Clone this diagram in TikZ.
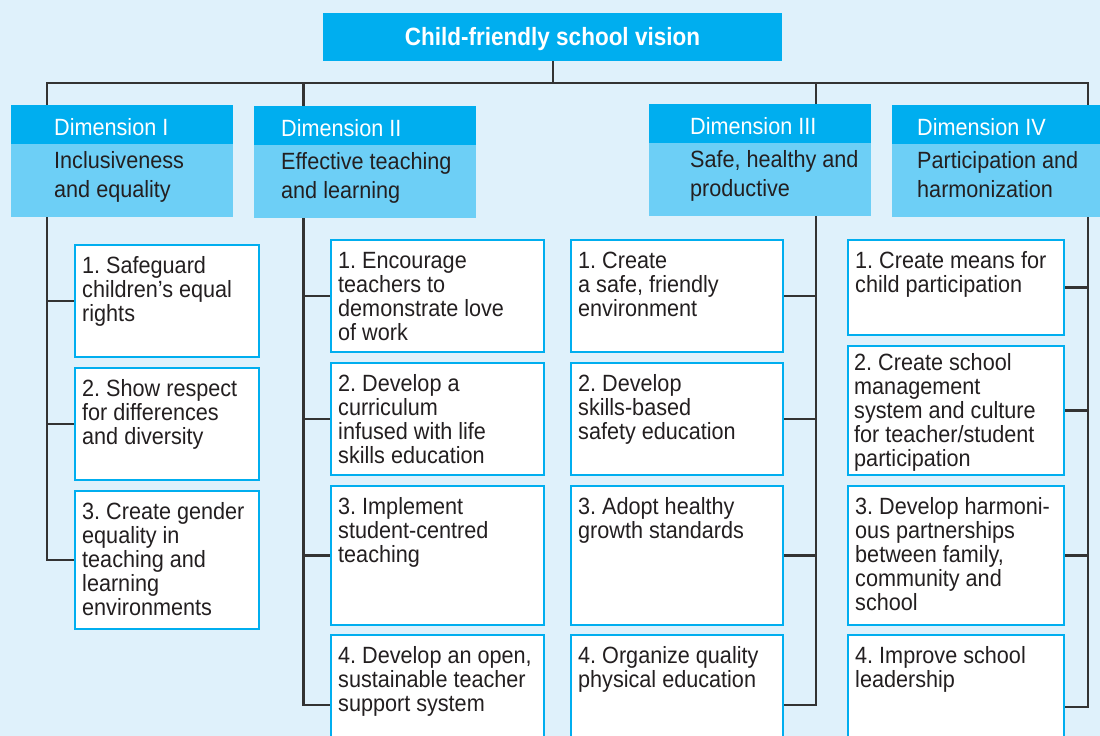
\documentclass[tikz,border=0pt]{standalone}
\usepackage{fontspec}
\setmainfont{Liberation Sans}[FakeStretch=0.92]
\newfontfamily\titlefont{Liberation Sans}[FakeStretch=0.9]
\definecolor{bgc}{HTML}{DFF1FB}
\definecolor{cyanA}{HTML}{00AEEF}
\definecolor{cyanL}{HTML}{6DCFF6}
\definecolor{lineC}{HTML}{333333}
\definecolor{txt}{HTML}{231F20}
\pgfdeclarelayer{bglayer}
\pgfdeclarelayer{linelayer}
\pgfsetlayers{bglayer,linelayer,main}
\tikzset{
  item/.style={draw=cyanA, line width=2pt, fill=white, inner sep=0pt, anchor=north west},
  itemtext/.style={anchor=north west, inner sep=0pt, align=left, text=txt, font=\frenchspacing\fontsize{23.5}{24}\selectfont},
  dimlow/.style={anchor=north west, fill=cyanL, minimum width=222pt, minimum height=112pt, inner sep=0pt},
  dimtop/.style={anchor=north west, fill=cyanA, minimum width=222pt, minimum height=39pt, inner sep=0pt},
  dimlabel/.style={anchor=base west, inner sep=0pt, text=white, font=\fontsize{23.5}{24}\selectfont},
  dimsub/.style={anchor=north west, inner sep=0pt, align=left, text=txt, font=\frenchspacing\fontsize{23.5}{29}\selectfont},
  titlebox/.style={anchor=north west, fill=cyanA, minimum width=459pt, minimum height=48pt, inner sep=0pt},
  titletext/.style={anchor=base, inner sep=0pt, text=white, font=\titlefont\bfseries\fontsize{25}{26}\selectfont},
  conn/.style={draw=lineC, line width=2.4pt, line join=miter}
}
\newcommand\itm[6]{%
  \node[item, minimum width=#4pt, minimum height=#5pt] (#1) at (#2,#3) {};
  \node[itemtext] (#1t) at ([shift={(8,11.5)}]#1.north west) {\rule{0pt}{18pt}#6};}
\newcommand\dimbox[6]{%
  \node[dimlow] (#1) at (#2,#3) {};
  \node[dimtop] (#1h) at (#1.north west) {};
  \node[dimlabel] (#1l) at (#4,#3+30) {#5};
  \node[dimsub] (#1s) at (#4,#3+45) {\rule{0pt}{18pt}#6};}
\begin{document}
\frenchspacing
\begin{tikzpicture}[x=1pt,y=-1pt]
\useasboundingbox (0,0) rectangle (1100,736);
\begin{pgfonlayer}{bglayer}
  \fill[bgc] (0,0) rectangle (1100,736);
\end{pgfonlayer}

% title
\node[titlebox] (title) at (323,13) {};
\node[titletext] (titlet) at (552.5,45) {Child-friendly school vision};

% dimension headers
\dimbox{d1}{11}{105}{54}{Dimension I}{Inclusiveness\\and equality}
\dimbox{d2}{254}{106}{281}{Dimension II}{Effective teaching\\and learning}
\dimbox{d3}{649}{104}{690}{Dimension III}{Safe, healthy and\\productive}
\dimbox{d4}{892}{105}{917}{Dimension IV}{Participation and\\harmonization}

% column I
\itm{b11}{74}{244}{184}{112}{1. Safeguard\\children’s equal\\rights}
\itm{b12}{74}{367}{184}{112}{2. Show respect\\for differences\\and diversity}
\itm{b13}{74}{490}{184}{138}{3. Create gender\\equality in\\teaching and\\learning\\environments}

% column II
\itm{b21}{330}{239}{213}{112}{1. Encourage\\teachers to\\demonstrate love\\of work}
\itm{b22}{330}{362}{213}{112}{2. Develop a\\curriculum\\infused with life\\skills education}
\itm{b23}{330}{485}{213}{139}{3. Implement\\student-centred\\teaching}
\itm{b24}{330}{634}{213}{140}{4. Develop an open,\\sustainable teacher\\support system}

% column III
\itm{b31}{570}{239}{212}{112}{1. Create\\a safe, friendly\\environment}
\itm{b32}{570}{362}{212}{112}{2. Develop\\skills-based\\safety education}
\itm{b33}{570}{485}{212}{139}{3. Adopt healthy\\growth standards}
\itm{b34}{570}{634}{212}{140}{4. Organize quality\\physical education}

% column IV
\itm{b41}{847}{239}{216}{95}{1. Create means for\\child participation}
\node[item, minimum width=216pt, minimum height=129pt] (b42) at (847,345) {};
\node[itemtext] (b42t) at ([shift={(7,7)}]b42.north west) {\rule{0pt}{18pt}2. Create school\\management\\system and culture\\for teacher/student\\participation};
\itm{b43}{847}{485}{216}{139}{3. Develop harmoni-\\ous partnerships\\between family,\\community and\\school}
\itm{b44}{847}{634}{216}{144}{4. Improve school\\leadership}

% connectors
\coordinate (busL) at (47,83);
\coordinate (busR) at (1088,83);
\coordinate (bus2) at (303.5,83);
\coordinate (bus3) at (816,83);
\begin{pgfonlayer}{linelayer}
  \draw[conn] (title.south) -- (title.south |- busL);
  \draw[conn] (b13.west) -| (busL) -- (busR) |- (b44.east);
  \draw[conn] (b11.west -| busL) -- (b11.west);
  \draw[conn] (b12.west -| busL) -- (b12.west);
  \draw[conn] (bus2) |- (b24.west);
  \draw[conn] (b21.west -| bus2) -- (b21.west);
  \draw[conn] (b22.west -| bus2) -- (b22.west);
  \draw[conn] (b23.west -| bus2) -- (b23.west);
  \draw[conn] (bus3) |- (b34.east);
  \draw[conn] (b31.east -| bus3) -- (b31.east);
  \draw[conn] (b32.east -| bus3) -- (b32.east);
  \draw[conn] (b33.east -| bus3) -- (b33.east);
  \draw[conn] (b41.east -| busR) -- (b41.east);
  \draw[conn] (b42.east -| busR) -- (b42.east);
  \draw[conn] (b43.east -| busR) -- (b43.east);
\end{pgfonlayer}
\end{tikzpicture}
\end{document}
